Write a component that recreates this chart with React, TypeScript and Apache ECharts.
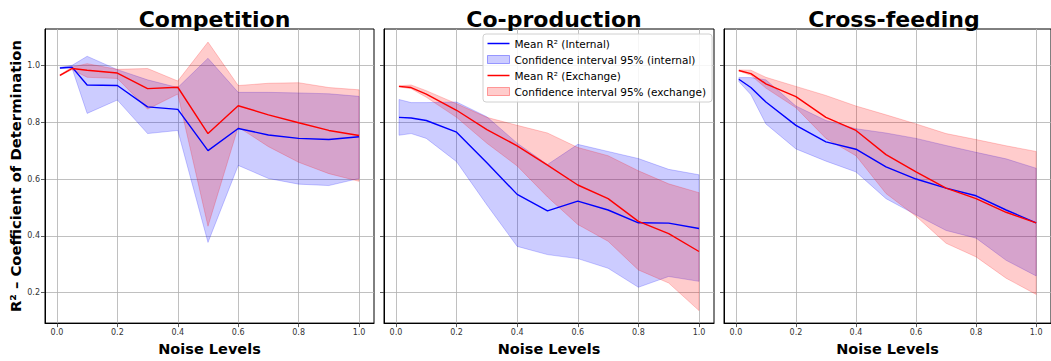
import React, { useEffect, useRef } from "react";
import * as echarts from "echarts";

const FONT = "DejaVu Sans";

const noiseLevels = [0.01, 0.05, 0.1, 0.2, 0.3, 0.4, 0.5, 0.6, 0.7, 0.8, 0.9, 1.0];
const tickValues = [0, 0.2, 0.4, 0.6, 0.8, 1.0];
const yTickValues = [0.2, 0.4, 0.6, 0.8, 1.0];
const panelTitles = ["Competition", "Co-production", "Cross-feeding"];

// Competition
const compInternalMean = [0.991, 0.994, 0.931, 0.929, 0.854, 0.845, 0.7, 0.778, 0.755, 0.743, 0.739, 0.749];
const compInternalLow = [0.989, 0.99, 0.831, 0.878, 0.76, 0.771, 0.377, 0.648, 0.602, 0.582, 0.577, 0.602];
const compInternalHigh = [0.993, 1.0, 1.032, 0.985, 0.949, 0.922, 1.025, 0.905, 0.905, 0.903, 0.9, 0.891];
const compExchangeMean = [0.965, 0.989, 0.983, 0.973, 0.918, 0.923, 0.76, 0.858, 0.826, 0.798, 0.771, 0.753];
const compExchangeLow = [0.963, 0.985, 0.958, 0.954, 0.846, 0.899, 0.434, 0.783, 0.714, 0.659, 0.619, 0.592];
const compExchangeHigh = [0.967, 0.994, 1.006, 0.986, 0.989, 0.945, 1.082, 0.929, 0.937, 0.939, 0.922, 0.914];

// Co-production
const coInternalMean = [0.817, 0.815, 0.806, 0.765, 0.657, 0.546, 0.488, 0.522, 0.491, 0.446, 0.445, 0.426];
const coInternalLow = [0.754, 0.76, 0.743, 0.661, 0.509, 0.363, 0.334, 0.32, 0.286, 0.219, 0.257, 0.24];
const coInternalHigh = [0.88, 0.869, 0.869, 0.871, 0.819, 0.726, 0.651, 0.722, 0.697, 0.672, 0.634, 0.615];
const coExchangeMean = [0.926, 0.922, 0.899, 0.842, 0.774, 0.717, 0.649, 0.579, 0.531, 0.451, 0.408, 0.345];
const coExchangeLow = [0.924, 0.918, 0.888, 0.817, 0.726, 0.646, 0.537, 0.44, 0.381, 0.28, 0.234, 0.137];
const coExchangeHigh = [0.928, 0.931, 0.911, 0.865, 0.817, 0.789, 0.762, 0.711, 0.682, 0.629, 0.583, 0.552];

// Cross-feeding
const cfInternalMean = [0.951, 0.922, 0.871, 0.789, 0.731, 0.705, 0.643, 0.6, 0.568, 0.541, 0.491, 0.446];
const cfInternalLow = [0.943, 0.897, 0.794, 0.706, 0.663, 0.625, 0.531, 0.474, 0.419, 0.392, 0.314, 0.259];
const cfInternalHigh = [0.957, 0.957, 0.949, 0.857, 0.806, 0.777, 0.762, 0.743, 0.718, 0.694, 0.671, 0.638];
const cfExchangeMean = [0.982, 0.971, 0.935, 0.89, 0.817, 0.771, 0.686, 0.625, 0.568, 0.531, 0.483, 0.446];
const cfExchangeLow = [0.98, 0.965, 0.92, 0.851, 0.743, 0.682, 0.549, 0.469, 0.374, 0.326, 0.251, 0.194];
const cfExchangeHigh = [0.984, 0.983, 0.958, 0.926, 0.894, 0.857, 0.826, 0.794, 0.76, 0.739, 0.717, 0.697];

const panels = [
  { im: compInternalMean, il: compInternalLow, ih: compInternalHigh, em: compExchangeMean, el: compExchangeLow, eh: compExchangeHigh },
  { im: coInternalMean, il: coInternalLow, ih: coInternalHigh, em: coExchangeMean, el: coExchangeLow, eh: coExchangeHigh },
  { im: cfInternalMean, il: cfInternalLow, ih: cfInternalHigh, em: cfExchangeMean, el: cfExchangeLow, eh: cfExchangeHigh },
];

const NAME_IM = "Mean R² (Internal)";
const NAME_IC = "Confidence interval 95% (internal)";
const NAME_EM = "Mean R² (Exchange)";
const NAME_EC = "Confidence interval 95% (exchange)";

const BLUE = "#0000ff";
const RED = "#ff0000";
const BLUE_FILL = "rgba(0,0,255,0.2)";
const RED_FILL = "rgba(255,0,0,0.2)";
const LINE_ICON = "path://M0,0 L44,0 L44,3 L0,3 Z";

const gridRects = [
  { left: 45, top: 29, width: 329, height: 302 },
  { left: 384, top: 29, width: 330, height: 302 },
  { left: 724, top: 29, width: 330, height: 302 },
];

function bandSeries(name: string, idx: number, low: number[], high: number[], fill: string) {
  return {
    type: "custom",
    name,
    xAxisIndex: idx,
    yAxisIndex: idx,
    clip: true,
    itemStyle: { color: fill },
    encode: { x: 0, y: [1, 2] },
    data: noiseLevels.map((x, i) => [x, low[i], high[i]]),
    renderItem: (params: any, api: any) => {
      if (params.dataIndex !== 0) return null;
      const top = noiseLevels.map((x, i) => api.coord([x, high[i]]));
      const bottom = noiseLevels.map((x, i) => api.coord([x, low[i]])).reverse();
      return {
        type: "polygon",
        shape: { points: top.concat(bottom) },
        style: { fill, stroke: fill, lineWidth: 1 },
      };
    },
  };
}

function lineSeries(name: string, idx: number, mean: number[], color: string) {
  return {
    type: "line",
    name,
    xAxisIndex: idx,
    yAxisIndex: idx,
    symbol: "none",
    showSymbol: false,
    data: noiseLevels.map((x, i) => [x, mean[i]]),
    lineStyle: { color, width: 1.4 },
    itemStyle: { color },
  };
}

export default function App() {
  const ref = useRef<HTMLDivElement>(null);
  useEffect(() => {
    if (!ref.current) return;
    const chart = echarts.init(ref.current, null, { renderer: "svg" });
    const series: any[] = [];
    panels.forEach((p, i) => {
      series.push(lineSeries(NAME_IM, i, p.im, BLUE));
      series.push(bandSeries(NAME_IC, i, p.il, p.ih, BLUE_FILL));
      series.push(lineSeries(NAME_EM, i, p.em, RED));
      series.push(bandSeries(NAME_EC, i, p.el, p.eh, RED_FILL));
    });
    const option: any = {
      animation: false,
      backgroundColor: "#ffffff",
      textStyle: { fontFamily: FONT },
      title: panelTitles.map((t, i) => ({
        text: t,
        left: gridRects[i].left + gridRects[i].width / 2,
        top: 3,
        textAlign: "center",
        textStyle: { fontSize: 22, fontWeight: "bold", color: "#000", fontFamily: FONT },
      })),
      grid: gridRects.map((g) => ({
        ...g,
        show: true,
        borderColor: "#000",
        borderWidth: 1,
        backgroundColor: "transparent",
        containLabel: false,
      })),
      legend: {
        orient: "vertical",
        left: 483,
        top: 34,
        padding: [4, 6, 5, 4],
        itemGap: 5,
        itemWidth: 22,
        itemHeight: 8,
        symbolKeepAspect: true,
        backgroundColor: "rgba(255,255,255,0.85)",
        borderColor: "#d0d0d0",
        borderWidth: 1,
        borderRadius: 3,
        textStyle: { fontSize: 10.5, color: "#000", fontFamily: FONT },
        data: [
          { name: NAME_IM, icon: LINE_ICON, itemStyle: { color: BLUE } },
          { name: NAME_IC, icon: "rect", itemStyle: { color: BLUE_FILL, borderColor: "rgba(0,0,255,0.35)", borderWidth: 1 } },
          { name: NAME_EM, icon: LINE_ICON, itemStyle: { color: RED } },
          { name: NAME_EC, icon: "rect", itemStyle: { color: RED_FILL, borderColor: "rgba(255,0,0,0.35)", borderWidth: 1 } },
        ],
      },
      xAxis: gridRects.map((_, i) => ({
        type: "value",
        gridIndex: i,
        min: -0.0395,
        max: 1.0495,
        name: "Noise Levels",
        nameLocation: "middle",
        nameGap: 17,
        nameTextStyle: { fontSize: 14.5, fontWeight: "bold", color: "#000", fontFamily: FONT },
        axisLine: { show: true, onZero: false, lineStyle: { color: "#000", width: 1 } },
        axisTick: { show: true, length: 4, customValues: tickValues, lineStyle: { color: "#333", width: 0.8 } },
        axisLabel: {
          customValues: tickValues,
          formatter: (v: number) => v.toFixed(1),
          fontSize: 8,
          color: "#333",
          margin: 5,
          fontFamily: FONT,
        },
        splitLine: { show: true, lineStyle: { color: "#b0b0b0", width: 0.8 } },
      })),
      yAxis: gridRects.map((_, i) => ({
        type: "value",
        gridIndex: i,
        min: 0.093,
        max: 1.128,
        name: i === 0 ? "R² – Coefficient of Determination" : "",
        nameLocation: "middle",
        nameGap: 20,
        nameRotate: 90,
        nameTextStyle: { fontSize: 14.8, fontWeight: "bold", color: "#000", fontFamily: FONT },
        axisLine: { show: true, onZero: false, lineStyle: { color: "#000", width: 1 } },
        axisTick: { show: true, length: 4, customValues: yTickValues, lineStyle: { color: "#333", width: 0.8 } },
        axisLabel: {
          show: i === 0,
          customValues: yTickValues,
          formatter: (v: number) => v.toFixed(1),
          fontSize: 8,
          color: "#333",
          margin: 5,
          fontFamily: FONT,
        },
        splitLine: { show: true, lineStyle: { color: "#b0b0b0", width: 0.8 } },
      })),
      series,
    };
    chart.setOption(option);
    return () => chart.dispose();
  }, []);
  return (
    <div
      ref={ref}
      style={{ position: "fixed", left: 0, top: 0, width: 1051, height: 361, background: "#fff" }}
    />
  );
}
